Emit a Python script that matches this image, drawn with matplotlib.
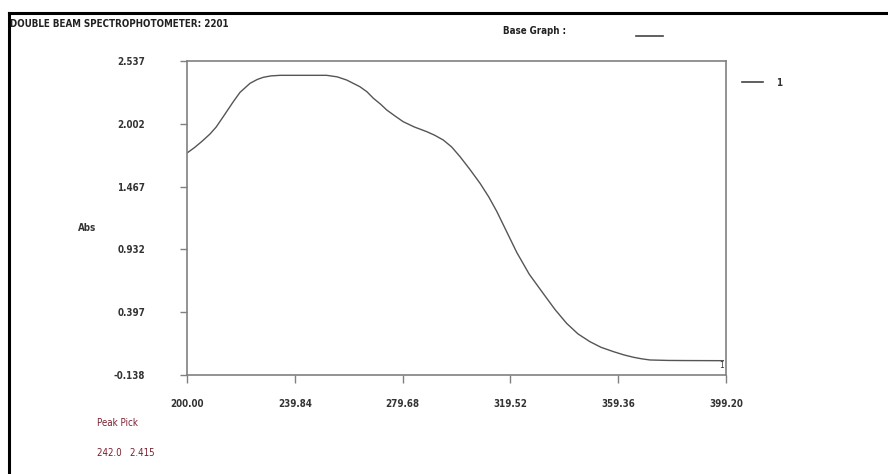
import matplotlib
matplotlib.use("Agg")
import matplotlib.pyplot as plt
from matplotlib.lines import Line2D

# wavelength (nm) and absorbance
wavelength = [200.0, 202.8, 205.4, 208.5, 210.8, 213.4, 217.1, 219.6, 223.3, 226.0,
              228.2, 231.0, 234.4, 242.0, 246.0, 251.6, 255.5, 259.0, 263.9, 266.5,
              268.9, 271.5, 273.8, 276.9, 279.9, 284.0, 288.6, 291.5, 294.7, 297.8,
              300.9, 304.5, 308.3, 311.5, 314.5, 318.2, 321.9, 326.5, 331.7, 336.0,
              340.3, 344.5, 348.9, 353.0, 357.6, 361.5, 365.0, 368.0, 371.1, 378.0,
              385.0, 398.2]
absorbance = [1.753, 1.800, 1.850, 1.915, 1.975, 2.063, 2.190, 2.270, 2.347, 2.380,
              2.398, 2.410, 2.415, 2.415, 2.415, 2.415, 2.402, 2.375, 2.318, 2.275,
              2.219, 2.170, 2.120, 2.068, 2.020, 1.975, 1.935, 1.905, 1.864, 1.805,
              1.722, 1.615, 1.495, 1.380, 1.255, 1.080, 0.905, 0.720, 0.555, 0.420,
              0.302, 0.212, 0.146, 0.098, 0.061, 0.033, 0.013, 0.000, -0.010, -0.014,
              -0.015, -0.016]

x_ticks = [200.00, 239.84, 279.68, 319.52, 359.36, 399.20]
y_ticks = [-0.138, 0.397, 0.932, 1.467, 2.002, 2.537]
peak = (242.0, 2.415)

plt.rcParams['font.family'] = ['DejaVu Sans']
plt.rcParams['font.stretch'] = 'condensed'
TXT = '#333333'
AXC = '#808080'
FS = 7

W, H = 888, 474
fig = plt.figure(figsize=(W / 100, H / 100), dpi=100, facecolor='white')

# axes box in pixels: left 187, right 726, top 61, bottom 375
ax = fig.add_axes([187 / W, 1 - 375 / H, (726 - 187) / W, (375 - 61) / H])
ax.plot(wavelength, absorbance, color='#555555', linewidth=1.0)
ax.set_xlim(x_ticks[0], x_ticks[-1])
ax.set_ylim(y_ticks[0], y_ticks[-1])

ax.set_xticks(x_ticks)
ax.set_xticklabels([f'{v:.2f}' for v in x_ticks])
ax.set_yticks(y_ticks)
ax.set_yticklabels([f'{v:.3f}' for v in y_ticks])
ax.tick_params(axis='y', direction='out', length=5, width=1, color=AXC,
               pad=25, labelsize=FS, labelcolor=TXT)
ax.tick_params(axis='x', direction='out', length=6, width=1, color=AXC,
               pad=11, labelsize=FS, labelcolor=TXT)
for lab in ax.get_xticklabels() + ax.get_yticklabels():
    lab.set_fontweight('bold')
    lab.set_fontstretch('condensed')
for sp in ax.spines.values():
    sp.set_color(AXC)
    sp.set_linewidth(1.2)

ax.text(0.992, 0.03, '1', transform=ax.transAxes, fontsize=6, color=TXT,
        ha='center', va='center')

# page frame (top and left edges only)
fig.add_artist(Line2D([9 / W, 1], [1 - 13 / H, 1 - 13 / H], transform=fig.transFigure,
                      color='black', linewidth=2.2))
fig.add_artist(Line2D([9 / W, 9 / W], [0, 1 - 13 / H], transform=fig.transFigure,
                      color='black', linewidth=2.2))

fig.text(10 / W, 1 - 24 / H, 'DOUBLE BEAM SPECTROPHOTOMETER: 2201', fontsize=FS,
         fontweight='bold', fontstretch='condensed', color='#222222',
         va='center', ha='left')
fig.text(535 / W, 1 - 31 / H, 'Base Graph :', fontsize=FS, fontweight='bold',
         fontstretch='condensed', color='#222222', va='center', ha='center')
fig.add_artist(Line2D([636 / W, 663 / W], [1 - 36 / H, 1 - 36 / H],
                      transform=fig.transFigure, color='#444444', linewidth=1.2))

# legend
fig.add_artist(Line2D([742 / W, 763 / W], [1 - 82 / H, 1 - 82 / H],
                      transform=fig.transFigure, color='#444444', linewidth=1.2))
fig.text(779 / W, 1 - 83 / H, '1', fontsize=FS, fontweight='bold', color=TXT,
         va='center', ha='center')

fig.text(87 / W, 1 - 228 / H, 'Abs', fontsize=FS, fontweight='bold',
         fontstretch='condensed', color=TXT, va='center', ha='center')

fig.text(97 / W, 1 - 423 / H, 'Peak Pick', fontsize=FS, fontstretch='condensed',
         color='#7a2030', va='center', ha='left')
fig.text(97 / W, 1 - 453 / H, f'{peak[0]:.1f}   {peak[1]:.3f}', fontsize=FS,
         fontstretch='condensed', color='#7a2030', va='center', ha='left')

fig.savefig('out.png', dpi=100, facecolor='white')
